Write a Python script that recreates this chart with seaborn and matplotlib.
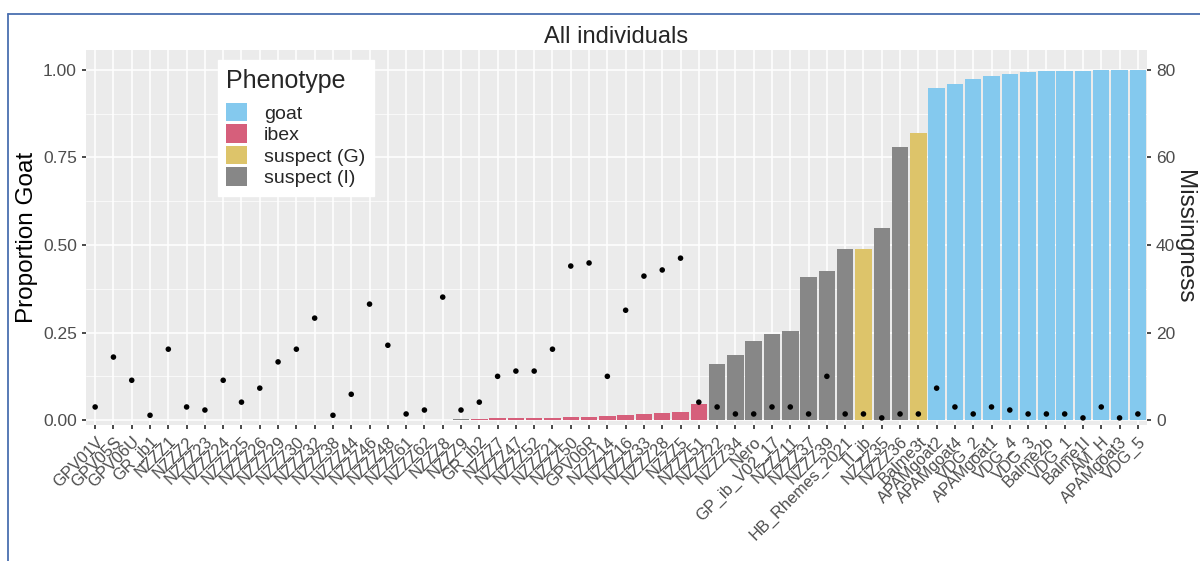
import matplotlib
matplotlib.use("Agg")
import matplotlib.pyplot as plt
import matplotlib.lines as mlines
import pandas as pd
import seaborn as sns

# datos
individuos = ["GPV01V", "GPV05S", "GPV06U", "GR_ib1", "NZZZ1", "NZZZ2", "NZZZ23", "NZZZ24",
              "NZZZ25", "NZZZ26", "NZZZ29", "NZZZ30", "NZZZ32", "NZZZ38", "NZZZ44", "NZZZ46",
              "NZZZ48", "NZZZ61", "NZZZ62", "NZZZ8", "NZZZ9", "GR_ib2", "NZZZ7", "NZZZ47",
              "NZZZ52", "NZZZ21", "NZZZ50", "GPV06R", "NZZZ14", "NZZZ16", "NZZZ33", "NZZZ28",
              "NZZZ5", "NZZZ51", "NZZZ22", "NZZZ34", "Nero", "GP_ib_V02_17", "NZZZ11", "NZZZ37",
              "NZZZ39", "HB_Rhemes_2021", "TI_ib", "NZZZ35", "NZZZ36", "Balme3t", "APAMgoat2",
              "APAMgoat4", "VDG_2", "APAMgoat1", "VDG_4", "VDG_3", "Balme2b", "VDG_1", "Balme1I",
              "AM_H", "APAMgoat3", "VDG_5"]

prop_goat = [0, 0, 0, 0, 0, 0, 0, 0, 0, 0,
             0, 0, 0, 0, 0, 0, 0, 0, 0, 0,
             0.004, 0.004, 0.005, 0.005, 0.006, 0.007, 0.008, 0.010, 0.012, 0.015,
             0.017, 0.020, 0.024, 0.045, 0.160, 0.185, 0.225, 0.245, 0.255, 0.410,
             0.425, 0.490, 0.490, 0.550, 0.780, 0.820, 0.948, 0.960, 0.974, 0.983,
             0.989, 0.994, 0.997, 0.997, 0.997, 1.0, 1.0, 1.0]

missingness = [3, 14.4, 9.1, 1.1, 16.2, 3, 2.3, 9.1, 4.1, 7.3,
               13.3, 16.2, 23.3, 1.1, 5.9, 26.5, 17.1, 1.4, 2.3, 28.1,
               2.3, 4.1, 10, 11.2, 11.2, 16.2, 35.2, 35.9, 10, 25.1,
               32.9, 34.3, 37, 4.1, 3, 1.4, 1.4, 3, 3, 1.4,
               10, 1.4, 1.4, 0.5, 1.4, 1.4, 7.3, 3, 1.4, 3,
               2.3, 1.4, 1.4, 1.4, 0.5, 3, 0.5, 1.4]

fenotipo = (["ibex"] * 20 + ["suspect (I)"] + ["ibex"] * 13 + ["suspect (I)"] * 8
            + ["suspect (G)"] + ["suspect (I)"] * 2 + ["suspect (G)"] + ["goat"] * 12)

niveles = ["goat", "ibex", "suspect (G)", "suspect (I)"]
colores = {"goat": "#84C9EE", "ibex": "#D65F7B", "suspect (G)": "#DDC46A", "suspect (I)": "#878787"}

datos = pd.DataFrame({"ind": individuos, "prop": prop_goat, "miss": missingness, "Phenotype": fenotipo})
datos["pos"] = range(len(datos))

sns.set_theme(style="darkgrid", rc={"axes.facecolor": "#EBEBEB", "grid.color": "white"})
plt.rcParams["font.family"] = ["Liberation Sans", "DejaVu Sans"]

fig = plt.figure(figsize=(12, 5.61), dpi=100)
ax = fig.add_axes([86 / 1200, 1 - 425 / 561, (1147 - 86) / 1200, (425 - 50) / 561])

sns.barplot(data=datos, x="ind", y="prop", hue="Phenotype", hue_order=niveles, palette=colores,
            dodge=False, width=0.9, saturation=1, linewidth=0, ax=ax, zorder=2)

ax.set_xlim(-0.5, len(datos) - 0.5)
ax.set_ylim(-0.014, 1.057)
ax.set_yticks([0, 0.25, 0.5, 0.75, 1.0])
ax.set_yticklabels(["0.00", "0.25", "0.50", "0.75", "1.00"], fontsize=12.5, color="#4D4D4D")
ax.set_yticks([0.125, 0.375, 0.625, 0.875], minor=True)
ax.grid(which="major", color="white", linewidth=1.1)
ax.grid(which="minor", axis="y", color="white", linewidth=0.5)
ax.set_axisbelow(True)
ax.tick_params(axis="both", which="major", length=3, color="#333333", direction="out",
               left=True, bottom=True)
ax.tick_params(axis="y", which="minor", length=0)
ax.set_xticks(range(len(datos)))
ax.set_xticklabels(individuos, rotation=45, ha="right", va="top", rotation_mode="anchor",
                   fontsize=11.8, color="#4D4D4D")
ax.set_xlabel("")
ax.set_ylabel("Proportion Goat", fontsize=17.5, color="black", labelpad=4)
ax.set_title("All individuals", fontsize=17, pad=5)
for s in ax.spines.values():
    s.set_visible(False)

handles, labels = ax.get_legend_handles_labels()
leg = ax.legend(handles, labels, title="Phenotype", loc="upper left",
                bbox_to_anchor=(0.124, 0.973), borderaxespad=0, fontsize=14, title_fontsize=18,
                frameon=True, fancybox=False, facecolor="white", edgecolor="white",
                framealpha=1, handlelength=1.05, handleheight=1.1, handletextpad=0.9,
                labelspacing=0.08, borderpad=0.45)
leg._legend_box.align = "left"
leg._legend_box.sep = 7

ax2 = ax.twinx()
sns.scatterplot(data=datos, x="pos", y="miss", color="black", s=16, edgecolor="none", ax=ax2, zorder=3)
ax2.set_ylim(-0.014 * 80, 1.057 * 80)
ax2.set_yticks([0, 20, 40, 60, 80])
ax2.set_yticklabels(["0", "20", "40", "60", "80"], fontsize=12.5, color="#4D4D4D")
ax2.grid(False)
ax2.tick_params(axis="y", length=3, color="#333333", right=True, direction="out")
ax2.set_ylabel("")
for s in ax2.spines.values():
    s.set_visible(False)
fig.text(1184 / 1200, 1 - 237 / 561, "Missingness", rotation=-90, ha="center", va="center",
         fontsize=17.5)

# marco de la captura
fig.add_artist(mlines.Line2D([8 / 1200, 8 / 1200], [0, 1 - 14 / 561], color="#4A6FB0", linewidth=1.3))
fig.add_artist(mlines.Line2D([8 / 1200, 1], [1 - 14 / 561, 1 - 14 / 561], color="#4A6FB0", linewidth=1.3))

fig.savefig("out.png", dpi=100)
